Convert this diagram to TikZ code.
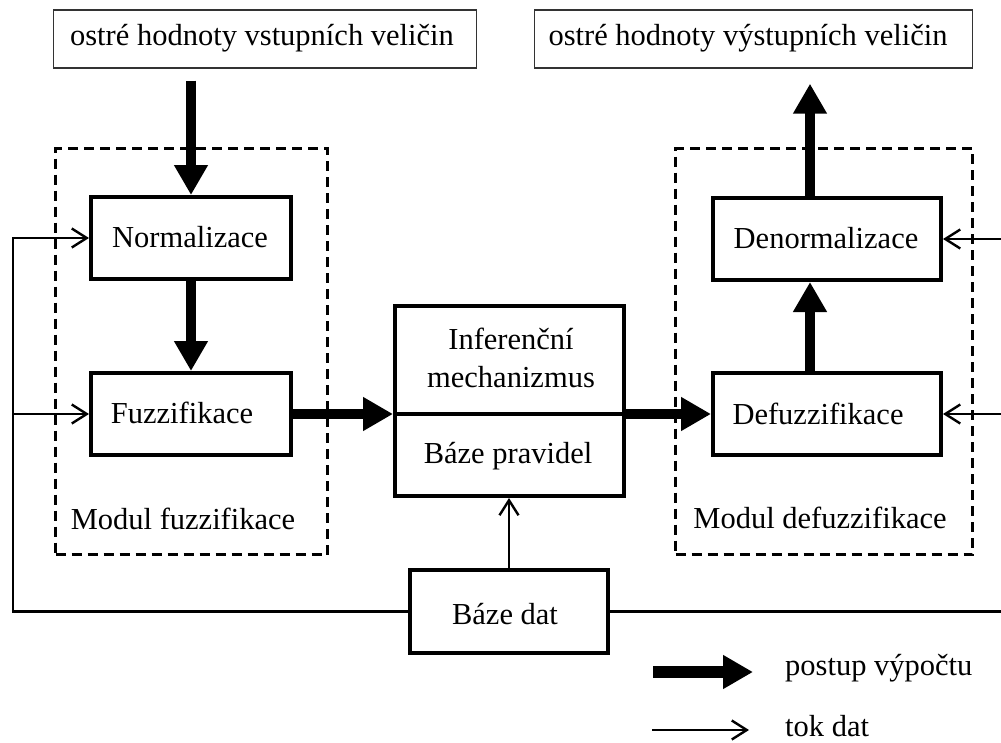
\documentclass[tikz,border=0pt]{standalone}
\usepackage{fontspec}
\setmainfont{Liberation Serif}
\usetikzlibrary{arrows.meta,calc}
\tikzset{
  txt/.style={font=\fontsize{30.5}{36}\selectfont, inner sep=0pt, anchor=base},
  blk/.style={draw=black, line width=4pt, inner sep=0pt},
  topbox/.style={draw=black!80, line width=1.4pt, inner sep=0pt},
  modul/.style={draw=black, line width=2.4pt, dash pattern=on 10pt off 6pt, inner sep=0pt},
  flow/.style={line width=10.5pt, -{Triangle[width=32pt,length=30pt]}},
  tok/.style={line width=2.4pt, line join=miter, -{Straight Barb[length=15pt,width=19pt]}},
  plain/.style={line width=2.4pt, line join=miter}
}
\begin{document}
\begin{tikzpicture}[x=1pt,y=-1pt]
\useasboundingbox (0,0) rectangle (1001,742);
% dashed modules
\node[modul, minimum width=272pt, minimum height=406pt] (mfuz) at (191.5,351.5) {};
\node[modul, minimum width=297pt, minimum height=406pt] (mdef) at (824,351.5) {};
% top boxes
\node[topbox, minimum width=423pt, minimum height=58pt] (inL) at (265,39) {};
\node[topbox, minimum width=438pt, minimum height=58pt] (outR) at (753.5,39) {};
\node[txt] (tinL) at (262,45) {ostré hodnoty vstupních veličin};
\node[txt] (toutR) at (748,45) {ostré hodnoty výstupních veličin};
% blocks
\node[blk, minimum width=200pt, minimum height=82pt] (norm) at (191,238) {};
\node[blk, minimum width=200pt, minimum height=82pt] (fuzz) at (191,414) {};
\node[blk, minimum width=228pt, minimum height=82pt] (denorm) at (827,239) {};
\node[blk, minimum width=228pt, minimum height=82pt] (defuzz) at (827,414) {};
\node[blk, minimum width=229pt, minimum height=190pt] (cbox) at (509.5,401) {};
\node[blk, minimum width=198pt, minimum height=83pt] (bd) at (509,611.5) {};
\coordinate (dv) at (0,414);
\draw[line width=4pt] (cbox.west |- dv) -- (cbox.east |- dv);
% texts
\node[txt] (tnorm) at (190,247) {Normalizace};
\node[txt] (tfuzz) at (182,423) {Fuzzifikace};
\node[txt] (tdenorm) at (826,248) {Denormalizace};
\node[txt] (tdefuzz) at (818,424) {Defuzzifikace};
\node[txt] (tinf) at (511,349) {Inferenční};
\node[txt] (tmech) at (511,387) {mechanizmus};
\node[txt] (tbp) at (508,463) {Báze pravidel};
\node[txt] (tbd) at (505,624) {Báze dat};
\node[txt] (tmf) at (183,529) {Modul fuzzifikace};
\node[txt] (tmd) at (820,528) {Modul defuzzifikace};
% thick flow arrows
\coordinate (a1) at ($(inL.south -| norm.north)+(0,12)$);
\draw[flow] (a1) -- (norm.north);
\draw[flow] (norm.south) -- (fuzz.north);
\draw[flow] (fuzz.east) -- (fuzz.east -| cbox.west);
\draw[flow] (cbox.east |- defuzz.west) -- (defuzz.west);
\coordinate (rx) at (810,0);
\draw[flow] (rx |- defuzz.north) -- (rx |- denorm.south);
\coordinate (a2) at ($(outR.south -| rx)+(0,15)$);
\draw[flow] (rx |- denorm.north) -- (a2);
% data flow
\draw[tok] (bd.north) -- (bd.north |- cbox.south);
\coordinate (lx) at (13,0);
\draw[tok] (bd.west) -| (lx |- norm.west) -- (norm.west);
\draw[tok] (lx |- fuzz.west) -- (fuzz.west);
\coordinate (redge) at (1001,0);
\draw[plain] (bd.east) -- (bd.east -| redge);
\draw[tok] (redge |- denorm.east) -- (denorm.east);
\draw[tok] (redge |- defuzz.east) -- (defuzz.east);
% legend
\coordinate (lg1) at (653,672);
\coordinate (lg2) at (753,672);
\draw[flow, line width=12pt] (lg1) -- (lg2);
\node[txt, anchor=base west] (tpv) at (785,675) {postup výpočtu};
\coordinate (lg3) at (652,730);
\coordinate (lg4) at (749,730);
\draw[tok] (lg3) -- (lg4);
\node[txt, anchor=base west] (ttd) at (785,736) {tok dat};
\end{tikzpicture}
\end{document}
